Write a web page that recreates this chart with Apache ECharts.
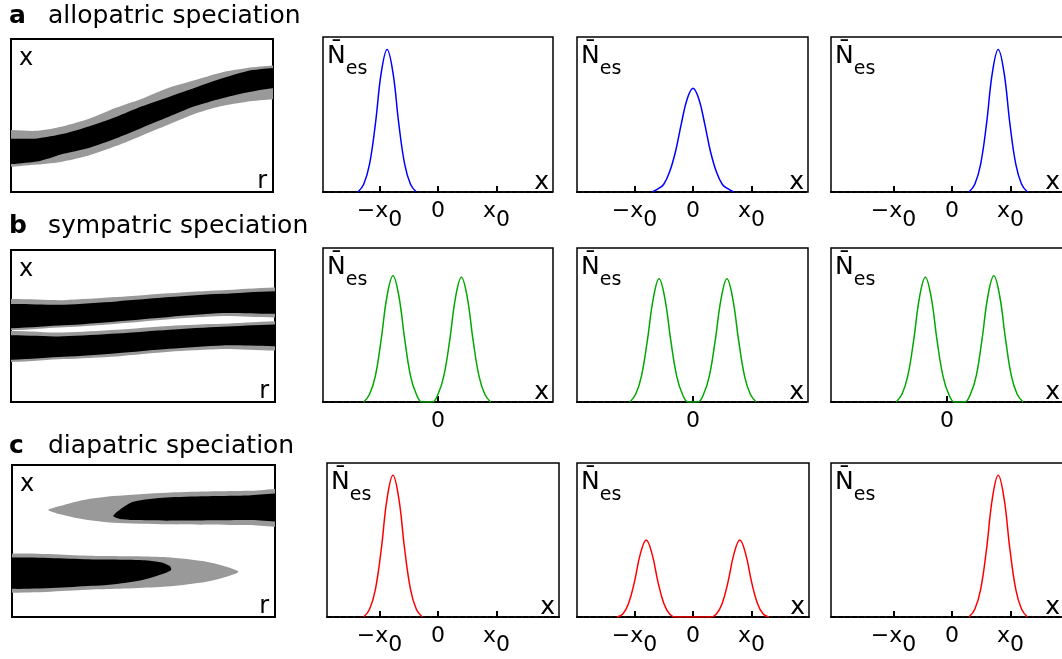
<!DOCTYPE html>
<html>
<head>
<meta charset="utf-8">
<title>Speciation modes</title>
<script src="https://cdn.jsdelivr.net/npm/echarts@6.0.0/dist/echarts.min.js"></script>
<style>
  html, body { margin: 0; padding: 0; background: #fff; }
  #chart { width: 1062px; height: 659px; }
</style>
</head>
<body>
<div id="chart"></div>
<script>
// ---- values ----
// curves: x in units of x0, height as a fraction of the panel
const rowLetters = ['a', 'b', 'c'];
const rowTitles = ['allopatric speciation', 'sympatric speciation', 'diapatric speciation'];
const ticksFull = [-1, 0, 1];
const ticksZero = [0];

const curveA1 = [[-1.37,0],[-1.27,0.05],[-1.17,0.18],[-1.07,0.44],[-0.97,0.77],[-0.87,0.92],[-0.77,0.77],[-0.67,0.44],[-0.57,0.18],[-0.47,0.05],[-0.37,0]];
const curveA2 = [[-0.7,0],[-0.6,0.02],[-0.5,0.05],[-0.4,0.13],[-0.3,0.26],[-0.2,0.44],[-0.1,0.6],[0,0.67],[0.1,0.6],[0.2,0.44],[0.3,0.26],[0.4,0.13],[0.5,0.05],[0.6,0.02],[0.7,0]];
const curveA3 = [[0.29,0],[0.39,0.05],[0.49,0.18],[0.59,0.44],[0.69,0.77],[0.79,0.92],[0.89,0.77],[0.99,0.44],[1.09,0.18],[1.19,0.05],[1.29,0]];

const curveB1 = [[-1.27,0],[-1.17,0.05],[-1.07,0.17],[-0.97,0.41],[-0.87,0.69],[-0.77,0.82],[-0.67,0.69],[-0.57,0.41],[-0.47,0.17],[-0.37,0.05],[-0.27,0],
                 [-0.1,0],[0,0.05],[0.1,0.17],[0.2,0.4],[0.3,0.68],[0.4,0.81],[0.5,0.68],[0.6,0.4],[0.7,0.17],[0.8,0.05],[0.9,0]];
const curveB2 = [[-1.08,0],[-0.98,0.05],[-0.88,0.17],[-0.78,0.4],[-0.68,0.67],[-0.58,0.8],[-0.48,0.67],[-0.38,0.4],[-0.28,0.17],[-0.18,0.05],[-0.08,0],
                 [0.08,0],[0.18,0.05],[0.28,0.17],[0.38,0.4],[0.48,0.67],[0.58,0.8],[0.68,0.67],[0.78,0.4],[0.88,0.17],[0.98,0.05],[1.08,0]];
const curveB3 = [[-0.87,0],[-0.77,0.05],[-0.67,0.17],[-0.57,0.4],[-0.47,0.68],[-0.37,0.81],[-0.27,0.68],[-0.17,0.4],[-0.07,0.17],[0.03,0.05],[0.13,0],
                 [0.3,0],[0.4,0.05],[0.5,0.17],[0.6,0.41],[0.7,0.69],[0.8,0.82],[0.9,0.69],[1.0,0.41],[1.1,0.17],[1.2,0.05],[1.3,0]];

const curveC1 = [[-1.27,0],[-1.17,0.05],[-1.07,0.18],[-0.97,0.44],[-0.87,0.77],[-0.77,0.92],[-0.67,0.77],[-0.57,0.44],[-0.47,0.18],[-0.37,0.05],[-0.27,0]];
const curveC2 = [[-1.3,0],[-1.2,0.02],[-1.1,0.09],[-1.0,0.23],[-0.9,0.41],[-0.8,0.5],[-0.7,0.41],[-0.6,0.23],[-0.5,0.09],[-0.4,0.02],[-0.3,0],
                 [0.3,0],[0.4,0.02],[0.5,0.09],[0.6,0.23],[0.7,0.41],[0.8,0.5],[0.9,0.41],[1.0,0.23],[1.1,0.09],[1.2,0.02],[1.3,0]];
const curveC3 = [[0.29,0],[0.39,0.05],[0.49,0.18],[0.59,0.44],[0.69,0.77],[0.79,0.92],[0.89,0.77],[0.99,0.44],[1.09,0.18],[1.19,0.05],[1.29,0]];

// schematic panels: outlines as [r, x] on a 0..1 box (top edge left->right, then bottom edge back)
const schemeAGray  = [[-0.1,0.39],[0.1,0.40],[0.2,0.43],[0.3,0.48],[0.4,0.55],[0.5,0.61],[0.6,0.68],[0.7,0.73],[0.8,0.78],[0.9,0.81],[1.0,0.826],[1.1,0.83],
                      [1.1,0.61],[1.0,0.606],[0.9,0.59],[0.8,0.56],[0.7,0.51],[0.6,0.44],[0.5,0.37],[0.4,0.30],[0.3,0.24],[0.2,0.20],[0.1,0.18],[-0.1,0.176]];
const schemeABlack = [[-0.1,0.33],[0.1,0.35],[0.2,0.38],[0.3,0.43],[0.4,0.49],[0.5,0.56],[0.6,0.62],[0.7,0.68],[0.8,0.74],[0.9,0.79],[1.0,0.81],[1.1,0.812],
                      [1.1,0.68],[1.0,0.678],[0.9,0.65],[0.8,0.61],[0.7,0.56],[0.6,0.49],[0.5,0.42],[0.4,0.35],[0.3,0.29],[0.2,0.25],[0.1,0.20],[-0.1,0.188]];

const schemeBGray1  = [[-0.1,0.66],[0.2,0.67],[0.4,0.69],[0.6,0.715],[0.8,0.735],[1.1,0.74],[1.1,0.572],[0.8,0.565],[0.6,0.545],[0.4,0.515],[0.2,0.492],[-0.1,0.485]];
const schemeBBlack1 = [[-0.1,0.63],[0.2,0.64],[0.4,0.662],[0.6,0.69],[0.8,0.712],[1.1,0.72],[1.1,0.594],[0.8,0.585],[0.6,0.56],[0.4,0.53],[0.2,0.505],[-0.1,0.495]];
const schemeBGray2  = [[-0.1,0.452],[0.2,0.457],[0.4,0.475],[0.6,0.50],[0.8,0.514],[1.1,0.518],[1.1,0.353],[0.8,0.348],[0.6,0.33],[0.4,0.30],[0.2,0.283],[-0.1,0.276]];
const schemeBBlack2 = [[-0.1,0.426],[0.2,0.432],[0.4,0.45],[0.6,0.475],[0.8,0.495],[1.1,0.50],[1.1,0.38],[0.8,0.372],[0.6,0.35],[0.4,0.32],[0.2,0.297],[-0.1,0.287]];

const schemeCGray1  = [[0.138,0.704],[0.183,0.73],[0.271,0.77],[0.385,0.796],[0.588,0.818],[0.9,0.83],[1.1,0.831],[1.1,0.605],[0.9,0.605],[0.588,0.61],[0.385,0.62],[0.271,0.643],[0.183,0.676]];
const schemeCBlack1 = [[0.385,0.664],[0.411,0.708],[0.461,0.759],[0.588,0.787],[0.9,0.8],[1.1,0.803],[1.1,0.638],[0.9,0.638],[0.588,0.634],[0.461,0.638],[0.411,0.645]];
const schemeCGray2  = [[-0.1,0.397],[0.335,0.401],[0.588,0.393],[0.74,0.364],[0.816,0.331],[0.861,0.298],[0.816,0.265],[0.74,0.232],[0.588,0.20],[0.335,0.182],[-0.1,0.178]];
const schemeCBlack2 = [[-0.1,0.375],[0.335,0.379],[0.487,0.375],[0.565,0.36],[0.6,0.335],[0.605,0.31],[0.575,0.285],[0.487,0.24],[0.335,0.207],[-0.1,0.20]];

// ---- layout ----
const FONT = 'DejaVu Sans';
const rowColors = ['#0000ff', '#00a800', '#ff0000'];
const curves = [[curveA1, curveA2, curveA3], [curveB1, curveB2, curveB3], [curveC1, curveC2, curveC3]];
const rowTicks = [ticksFull, ticksZero, ticksFull];
const schemeGray = [[schemeAGray], [schemeBGray1, schemeBGray2], [schemeCGray1, schemeCGray2]];
const schemeBlack = [[schemeABlack], [schemeBBlack1, schemeBBlack2], [schemeCBlack1, schemeCBlack2]];

const panelLeft = [[323, 577, 831], [323, 577, 831], [327, 577, 831]];
const panelWidth = [[230, 231, 233], [230, 231, 233], [232, 232, 233]];
const panelZero = [[438, 693, 952], [438, 693, 947], [438, 693, 952]];
const panelTop = [37, 248, 463];
const panelHeight = [155, 154, 154];
const pxPerUnit = 58.5;
const schemeLeft = [11, 11, 12], schemeWidth = [262, 264, 263];
const schemeTop = [39, 250, 465], schemeHeight = [153, 152, 152];
const titleTop = [4, 214, 434];

const chart = echarts.init(document.getElementById('chart'));

const grids = [], xAxes = [], yAxes = [], series = [], titles = [];

function tickLabel(v) {
  if (v === 0) return '{m|0}';
  return v < 0 ? '{m|\u2212x}{s|0}' : '{m|x}{s|0}';
}

for (let r = 0; r < 3; r++) {
  titles.push({
    text: '{b|' + rowLetters[r] + '}{t|' + rowTitles[r] + '}',
    left: 9, top: titleTop[r], padding: 0,
    textStyle: {
      fontWeight: 'normal',
      rich: {
        b: { fontFamily: FONT, fontWeight: 'bold', fontSize: 25, color: '#000', width: 39 },
        t: { fontFamily: FONT, fontWeight: 'normal', fontSize: 25, color: '#000' }
      }
    }
  });

  // schematic box
  const gi = grids.length;
  grids.push({ left: schemeLeft[r], top: schemeTop[r], width: schemeWidth[r], height: schemeHeight[r],
    show: true, borderColor: '#000', borderWidth: 2, outerBoundsMode: 'none' });
  xAxes.push({ gridIndex: gi, type: 'value', min: 0, max: 1,
    axisLine: { show: false, onZero: false }, axisTick: { show: false }, axisLabel: { show: false }, splitLine: { show: false },
    name: 'r', nameLocation: 'end', nameGap: -6,
    nameTextStyle: { fontFamily: FONT, fontSize: 24, color: '#000', align: 'right', verticalAlign: 'bottom', padding: [0, 0, -2, 0] } });
  yAxes.push({ gridIndex: gi, type: 'value', min: 0, max: 1,
    axisLine: { show: false, onZero: false }, axisTick: { show: false }, axisLabel: { show: false }, splitLine: { show: false },
    name: 'x', nameLocation: 'end', nameGap: -8,
    nameTextStyle: { fontFamily: FONT, fontSize: 24, color: '#000', align: 'left', verticalAlign: 'top', padding: [0, 0, 0, 8] } });
  [[schemeGray[r], '#999999'], [schemeBlack[r], '#000000']].forEach(([shapes, fill]) => {
    series.push({
      type: 'custom', xAxisIndex: gi, yAxisIndex: gi, clip: true, silent: true,
      data: shapes.map(s => s[0]),
      renderItem: (params, api) => ({
        type: 'polygon',
        shape: { points: shapes[params.dataIndex].map(p => api.coord(p)), smooth: 0.25 },
        style: { fill: fill }
      })
    });
  });

  // three density panels
  for (let c = 0; c < 3; c++) {
    const i = grids.length;
    const left = panelLeft[r][c], width = panelWidth[r][c], zero = panelZero[r][c];
    grids.push({ left: left, top: panelTop[r], width: width, height: panelHeight[r],
      show: true, borderColor: '#000', borderWidth: 1.5, outerBoundsMode: 'none' });
    xAxes.push({
      gridIndex: i, type: 'value',
      min: (left - zero) / pxPerUnit, max: (left + width - zero) / pxPerUnit,
      axisLine: { show: true, onZero: false, lineStyle: { color: '#000', width: 2, type: [5, 2] } },
      axisTick: { show: true, inside: true, length: 6, customValues: rowTicks[r], lineStyle: { color: '#000', width: 2 } },
      axisLabel: {
        show: true, customValues: rowTicks[r], margin: 8, formatter: tickLabel,
        rich: {
          m: { fontFamily: FONT, fontSize: 22, color: '#000', padding: [0, 0, 9, 0] },
          s: { fontFamily: FONT, fontSize: 22, color: '#000', padding: [9, 0, 0, 0] }
        }
      },
      splitLine: { show: false },
      name: 'x', nameLocation: 'end', nameGap: -4,
      nameTextStyle: { fontFamily: FONT, fontSize: 25, color: '#000', align: 'right', verticalAlign: 'bottom', padding: [0, 0, -3, 0] }
    });
    yAxes.push({
      gridIndex: i, type: 'value', min: 0, max: 1,
      axisLine: { show: false, onZero: false }, axisTick: { show: false }, axisLabel: { show: false }, splitLine: { show: false },
      name: '{n|N\u0304}{s|es}', nameLocation: 'end', nameGap: -6,
      nameTextStyle: {
        align: 'left', verticalAlign: 'top', padding: [0, 0, 0, 4],
        rich: {
          n: { fontFamily: FONT, fontSize: 25, color: '#000', padding: [0, 0, 10, 0] },
          s: { fontFamily: FONT, fontSize: 19, color: '#000', padding: [17, 0, 0, 0] }
        }
      }
    });
    series.push({
      type: 'line', xAxisIndex: i, yAxisIndex: i, data: curves[r][c],
      showSymbol: false, smooth: 0.4, silent: true,
      lineStyle: { color: rowColors[r], width: 1.5 }
    });
  }
}

chart.setOption({
  animation: false,
  backgroundColor: '#fff',
  title: titles,
  grid: grids,
  xAxis: xAxes,
  yAxis: yAxes,
  series: series
});
</script>
</body>
</html>
